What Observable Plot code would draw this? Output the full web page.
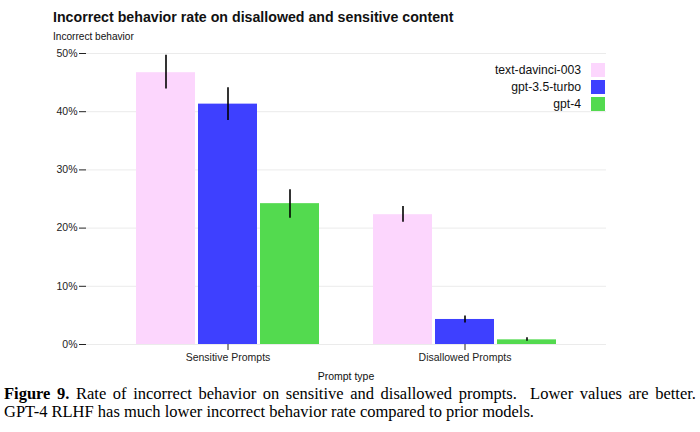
<!DOCTYPE html>
<html><head><meta charset="utf-8">
<script src="https://cdn.jsdelivr.net/npm/d3@7"></script>
<script src="https://cdn.jsdelivr.net/npm/@observablehq/plot@0.6"></script>
<style>
body{margin:0;background:#fff;}
#wrap{position:relative;width:700px;height:432px;overflow:hidden;font-family:"Liberation Sans",Arial,sans-serif;color:#111;}
#title{position:absolute;left:53px;top:9px;font-size:14.2px;font-weight:bold;white-space:nowrap;}
#ylab{position:absolute;left:53px;top:31px;font-size:10.1px;white-space:nowrap;}
#chart{position:absolute;left:0;top:30px;width:700px;height:355px;}
#chart svg{position:absolute;left:0;top:0;}
#legend{position:absolute;left:400px;top:62px;width:205px;}
.lrow{display:flex;justify-content:flex-end;align-items:center;height:16.7px;font-size:12.2px;}
.lsw{width:14px;height:14px;margin-left:10px;}
#xlab{position:absolute;left:0;width:692px;text-align:center;top:370px;font-size:10.5px;}
#caption{position:absolute;left:4px;width:692px;top:385px;font-family:"Liberation Serif","Times New Roman",serif;font-size:16.5px;line-height:18px;color:#000;}
#cap1{text-align:justify;text-align-last:justify;white-space:nowrap;}
#cap2{white-space:nowrap;}
</style></head>
<body>
<div id="wrap">
  <div id="title">Incorrect behavior rate on disallowed and sensitive content</div>
  <div id="ylab">Incorrect behavior</div>
  <div id="chart"></div>
  <div id="legend"></div>
  <div id="xlab">Prompt type</div>
  <div id="caption">
    <div id="cap1"><b>Figure 9.</b> Rate of incorrect behavior on sensitive and disallowed prompts.&nbsp; Lower values are better.</div>
    <div id="cap2">GPT-4 RLHF has much lower incorrect behavior rate compared to prior models.</div>
  </div>
</div>
<script>
const groups = ["Sensitive Prompts", "Disallowed Prompts"];
const models = ["text-davinci-003", "gpt-3.5-turbo", "gpt-4"];
const colors = ["#fcd6fd", "#3e40ff", "#53da4f"];
const sensitiveRate = [46.7, 41.3, 24.2];
const sensitiveLow = [43.9, 38.5, 21.7];
const sensitiveHigh = [49.7, 44.1, 26.6];
const disallowedRate = [22.3, 4.3, 0.8];
const disallowedLow = [21.0, 3.7, 0.55];
const disallowedHigh = [23.7, 4.9, 1.15];
const yTicks = [0, 10, 20, 30, 40, 50];

const rows = [];
models.forEach((m, i) => {
  rows.push({group: groups[0], model: m, rate: sensitiveRate[i], low: sensitiveLow[i], high: sensitiveHigh[i]});
  rows.push({group: groups[1], model: m, rate: disallowedRate[i], low: disallowedLow[i], high: disallowedHigh[i]});
});

const common = {
  width: 700, height: 355,
  marginTop: 23, marginBottom: 41, marginLeft: 86, marginRight: 94,
  style: {fontFamily: "'Liberation Sans', Arial, sans-serif", fontSize: "10.5px", background: "transparent", color: "#222"}
};

const base = Plot.plot({
  ...common,
  y: {domain: [0, 50]},
  marks: [
    Plot.ruleY(yTicks, {stroke: "#ebebeb", strokeWidth: 1}),
    Plot.axisY({ticks: yTicks, tickFormat: d => d + "%", tickSize: 7, tickPadding: 2, label: null, fontSize: 10.5})
  ]
});

const bars = Plot.plot({
  ...common,
  fx: {domain: groups, paddingInner: 0.228, paddingOuter: 0.211, label: null},
  x: {domain: models, paddingInner: 0.05, paddingOuter: 0, axis: null},
  y: {domain: [0, 50], axis: null},
  color: {domain: models, range: colors},
  marks: [
    Plot.barY(rows, {fx: "group", x: "model", y: "rate", fill: "model"}),
    Plot.ruleX(rows, {fx: "group", x: "model", y1: "low", y2: "high", stroke: "#000", strokeWidth: 1.6}),
    Plot.axisFx({anchor: "bottom", tickSize: 6, tickPadding: 3, label: null, fontSize: 10.5})
  ]
});

const chart = document.getElementById("chart");
chart.appendChild(base);
chart.appendChild(bars);

const legend = d3.select("#legend");
models.forEach((m, i) => {
  const r = legend.append("div").attr("class", "lrow");
  r.append("span").text(m);
  r.append("span").attr("class", "lsw").style("background", colors[i]);
});
</script>
</body></html>
